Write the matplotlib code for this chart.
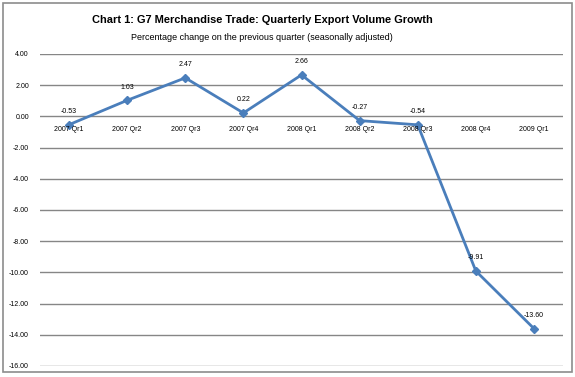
import matplotlib
matplotlib.use("Agg")
import matplotlib.pyplot as plt
from matplotlib.patches import Rectangle
from matplotlib import font_manager

categories = ["2007 Qr1", "2007 Qr2", "2007 Qr3", "2007 Qr4", "2008 Qr1",
              "2008 Qr2", "2008 Qr3", "2008 Qr4", "2009 Qr1"]
values = [-0.53, 1.03, 2.47, 0.22, 2.66, -0.27, -0.54, -9.91, -13.60]
yticks = [4, 2, 0, -2, -4, -6, -8, -10, -12, -14, -16]

names = {f.name for f in font_manager.fontManager.ttflist}
fam = "DejaVu Sans Condensed" if "DejaVu Sans Condensed" in names else "Liberation Sans"

fig = plt.figure(figsize=(5.75, 3.77), dpi=100)
fig.patch.set_facecolor("white")
fig.patches.append(Rectangle((3/575, 5/377), 569/575, 369/377, transform=fig.transFigure,
                             fill=False, edgecolor="#8c8c8c", linewidth=1.2))

ax = fig.add_axes([40/575, 11/377, 523/575, 312/377])
ax.set_xlim(-0.5, len(categories) - 0.5)
ax.set_ylim(-16, 4)
ax.set_yticks(yticks)
ax.set_yticklabels([f"{v:.2f}" for v in yticks], fontsize=5, family="Liberation Sans")
ax.tick_params(axis="y", length=0, pad=8)
ax.set_xticks([])
for s in ax.spines.values():
    s.set_visible(False)
ax.grid(axis="y", color="#868686", linewidth=1.0)
ax.set_axisbelow(True)

x = list(range(len(categories)))
ax.plot(x, values, color="#4A7EBB", linewidth=2, marker="D", markersize=4, zorder=3)

for i, (c, v) in enumerate(zip(categories, values)):
    ax.annotate(c, (i, 0), xytext=(0, -7), textcoords="offset points",
                ha="center", va="top", fontsize=5, family="Liberation Sans")
    ax.annotate(f"{v:.2f}", (i, v), xytext=(0, 7), textcoords="offset points",
                ha="center", va="bottom", fontsize=5, family="Liberation Sans")

title = "Chart 1: G7 Merchandise Trade: Quarterly Export Volume Growth"
t = fig.text(0.457, 1 - 20/377, title, ha="center", va="center", fontsize=10,
             fontweight="bold", family=fam)
sub = fig.text(0.455, 1 - 37/377, "Percentage change on the previous quarter (seasonally adjusted)",
               ha="center", va="center", fontsize=6.5, family=fam)

# fit title/subtitle widths to the reference's extents
r = fig.canvas.get_renderer()
for txt, target in ((t, 340), (sub, 262)):
    w = txt.get_window_extent(r).width
    txt.set_fontsize(txt.get_fontsize() * target / w)

fig.savefig("out.png", dpi=100)
